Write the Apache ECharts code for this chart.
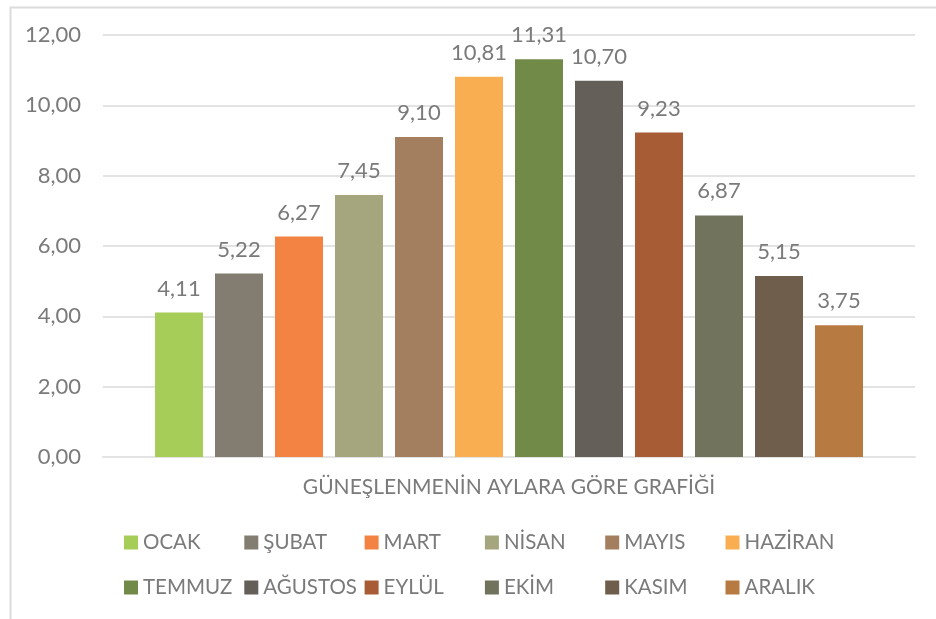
<!DOCTYPE html>
<html>
<head>
<meta charset="utf-8">
<script src="https://cdn.jsdelivr.net/npm/echarts@6/dist/echarts.min.js"></script>
<style>
    html, body {margin: 0; padding: 0; background: #fff;}
    #chart {width: 936px; height: 619px;}
</style>
</head>
<body>
<div id="chart"></div>
<script>
let category = ['GÜNEŞLENMENİN AYLARA GÖRE GRAFİĞİ'];
let months = ['OCAK', 'ŞUBAT', 'MART', 'NİSAN', 'MAYIS', 'HAZİRAN', 'TEMMUZ', 'AĞUSTOS', 'EYLÜL', 'EKİM', 'KASIM', 'ARALIK'];
let values = [4.11, 5.22, 6.27, 7.45, 9.10, 10.81, 11.31, 10.70, 9.23, 6.87, 5.15, 3.75];
let colors = ['#a6cd58', '#837d71', '#f38342', '#a5a67e', '#a37f5f', '#f8ae51', '#728a48', '#646059', '#a85c36', '#71735c', '#6e5e4b', '#b77a40'];

let font = 'Lato';
let textColor = '#7a7a7a';
let fmt = (v) => v.toFixed(2).replace('.', ',');

let series = [];
let legends = [];
for (let i = 0; i < months.length; i++) {
    series.push({
        name: months[i],
        type: 'bar',
        data: [values[i]],
        barWidth: 48,
        barGap: '25%',
        itemStyle: {color: colors[i]},
        label: {
            show: true,
            position: 'top',
            distance: 13,
            formatter: (p) => fmt(p.value),
            color: textColor,
            fontFamily: font,
            fontSize: 22
        }
    });
    // legend laid out as a 6x2 table
    let col = i % 6;
    let row = Math.floor(i / 6);
    legends.push({
        data: [months[i]],
        left: 119 + col * 120.3,
        top: row ? 572 : 527,
        itemWidth: 14,
        itemHeight: 14,
        itemGap: 5,
        icon: 'rect',
        selectedMode: false,
        textStyle: {color: textColor, fontFamily: font, fontSize: 20.5}
    });
}

let chart = echarts.init(document.getElementById('chart'));
let option = {
    animation: false,
    backgroundColor: '#fff',
    graphic: [{
        type: 'rect',
        left: 8,
        top: 5,
        shape: {width: 940, height: 620},
        style: {fill: 'none', stroke: '#dcdcdc', lineWidth: 2},
        silent: true
    }],
    grid: {left: 103, right: 21, top: 35, bottom: 162},
    legend: legends,
    xAxis: {
        type: 'category',
        data: category,
        axisTick: {show: false},
        axisLine: {lineStyle: {color: '#e3e3e3', width: 2}},
        axisLabel: {margin: 20, color: textColor, fontFamily: font, fontSize: 21}
    },
    yAxis: {
        type: 'value',
        min: 0,
        max: 12,
        interval: 2,
        axisLine: {show: false},
        axisTick: {show: false},
        splitLine: {lineStyle: {color: '#e3e3e3', width: 2}},
        axisLabel: {margin: 22, color: textColor, fontFamily: font, fontSize: 22, formatter: fmt}
    },
    series: series
};
chart.setOption(option);
</script>
</body>
</html>
